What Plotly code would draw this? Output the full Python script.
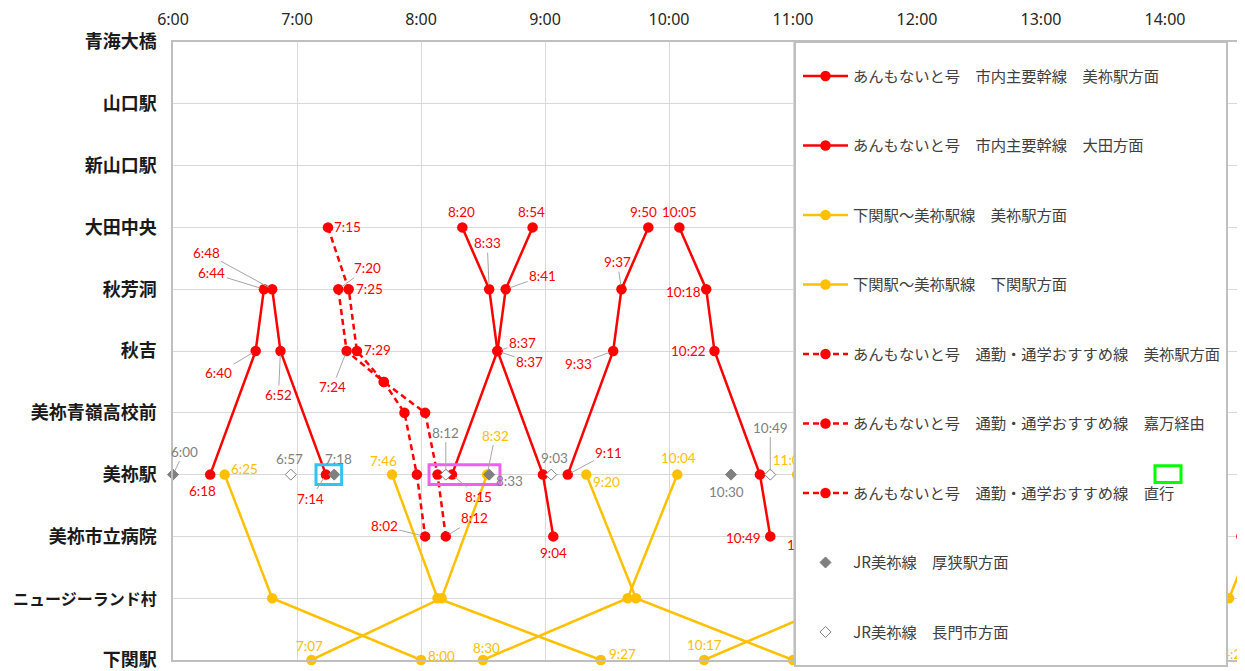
import plotly.graph_objects as go

# ---------------- data ----------------
STATIONS = ["下関駅", "ニュージーランド村", "美祢市立病院", "美祢駅", "美祢青嶺高校前",
            "秋吉", "秋芳洞", "大田中央", "新山口駅", "山口駅", "青海大橋"]
HOUR_LABELS = ["6:00", "7:00", "8:00", "9:00", "10:00", "11:00", "12:00", "13:00", "14:00"]

# あんもないと号 市内主要幹線 美祢駅方面
MAIN_MINE_TIMES = [["6:48", "6:52", "7:14"],
                   ["8:20", "8:33", "8:37", "8:59", "9:04"],
                   ["10:05", "10:18", "10:22", "10:44", "10:49"]]
MAIN_MINE_STOPS = [[6, 5, 3], [7, 6, 5, 3, 2], [7, 6, 5, 3, 2]]

# あんもないと号 市内主要幹線 大田方面
MAIN_OTA_TIMES = [["6:18", "6:40", "6:44"],
                  ["8:15", "8:37", "8:41", "8:54"],
                  ["9:11", "9:33", "9:37", "9:50"],
                  ["11:07", "11:12", "11:34", "11:38", "11:51"],
                  ["14:37", "14:42"]]
MAIN_OTA_STOPS = [[3, 5, 6], [3, 5, 6, 7], [3, 5, 6, 7], [2, 3, 5, 6, 7], [2, 3]]

# 下関駅～美祢駅線 美祢駅方面
SHIMO_MINE_TIMES = [["7:07", "8:10", "8:32"],
                    ["8:30", "9:40", "10:04"],
                    ["10:17", "11:27", "11:51"],
                    ["13:25", "14:31", "14:55"]]
SHIMO_MINE_STOPS = [[0, 1, 3], [0, 1, 3], [0, 1, 3], [0, 1, 3]]

# 下関駅～美祢駅線 下関駅方面
SHIMO_SHIMO_TIMES = [["6:25", "6:48", "8:00"],
                     ["7:46", "8:08", "9:27"],
                     ["9:20", "9:44", "11:00"],
                     ["11:02", "11:25", "12:42"],
                     ["12:48", "13:10", "14:26"]]
SHIMO_SHIMO_STOPS = [[3, 1, 0], [3, 1, 0], [3, 1, 0], [3, 1, 0], [3, 1, 0]]

# あんもないと号 通勤・通学おすすめ線
COM_MINE_TIMES = [["7:20", "7:24", "7:42", "7:52", "7:58", "8:02"]]
COM_MINE_STOPS = [[6, 5, 4.5, 4, 3, 2]]
COM_KAMAN_TIMES = [["7:15", "7:25", "7:29", "7:42", "8:02", "8:08", "8:12"]]
COM_KAMAN_STOPS = [[7, 6, 5, 4.5, 4, 3, 2]]
COM_DIRECT_TIMES = []
COM_DIRECT_STOPS = []

# JR美祢線 (美祢駅)
JR_ASA_TIMES = ["6:00", "7:18", "8:33", "10:30"]
JR_NAGA_TIMES = ["6:57", "8:12", "9:03", "10:49"]
JR_STOP = 3

# ---------------- label layout (pixel offsets) ----------------
# (series, time, dx, dy, leader line)
LABELS = [
    ("main_ota", "6:18", -8, 16, False), ("main_ota", "6:40", -37, 22, True),
    ("main_ota", "6:44", -52, -16, True), ("main_ota", "8:15", 26, 22, True),
    ("main_ota", "8:37", 25, -8, True), ("main_ota", "8:41", 37, -13, True),
    ("main_ota", "8:54", -1, -15, False), ("main_ota", "9:11", 41, -22, True),
    ("main_ota", "9:33", -35, 13, True), ("main_ota", "9:37", -4, -27, True),
    ("main_ota", "9:50", -5, -15, False),
    ("main_mine", "6:48", -66, -36, True), ("main_mine", "6:52", -2, 44, True),
    ("main_mine", "7:14", -15, 24, True), ("main_mine", "8:20", -1, -15, False),
    ("main_mine", "8:33", -2, -46, True), ("main_mine", "8:37", 32, 11, True),
    ("main_mine", "9:04", 0, 17, False), ("main_mine", "10:05", 0, -15, False),
    ("main_mine", "10:18", -23, 3, False), ("main_mine", "10:22", -26, 0, False),
    ("main_mine", "10:49", -27, 2, False),
    ("com_kaman", "7:15", 19, 0, False), ("com_kaman", "7:25", 21, 0, False),
    ("com_kaman", "7:29", 21, -1, False), ("com_kaman", "8:12", 29, -18, True),
    ("com_mine", "7:20", 29, -21, True), ("com_mine", "7:24", -14, 36, True),
    ("com_mine", "8:02", -41, -10, True),
    ("shimo_shimo", "6:25", 20, -6, False), ("shimo_shimo", "7:46", -9, -14, False),
    ("shimo_shimo", "9:20", 20, 7, False), ("shimo_shimo", "8:00", 20, -4, False),
    ("shimo_shimo", "9:27", 22, -6, False),
    ("shimo_mine", "8:32", 8, -39, True), ("shimo_mine", "10:04", 1, -17, False),
    ("shimo_mine", "7:07", -2, -14, False), ("shimo_mine", "8:30", 3, -12, False),
    ("shimo_mine", "10:17", 0, -15, False),
    ("jr_asa", "6:00", 11, -23, True), ("jr_asa", "7:18", 4, -16, False),
    ("jr_asa", "8:33", 20, 6, False), ("jr_asa", "10:30", -5, 17, False),
    ("jr_naga", "6:57", -1, -16, False), ("jr_naga", "8:12", 0, -42, True),
    ("jr_naga", "9:03", 3, -17, False), ("jr_naga", "10:49", 0, -47, True),
]
# labels partly hidden behind the legend box (drawn as trace text)
HIDDEN_LABELS = [
    ("shimo_shimo", "11:02", -7, -13), ("shimo_shimo", "14:26", 13, -4),
    ("main_ota", "11:07", -3, 10), ("main_ota", "14:37", -31, 0),
]

# ---------------- layout constants ----------------
# page (browser) pixel geometry; the page body adds an 8px offset to the figure
PAGE_OFF = 8
PLOT_L, PLOT_T, PLOT_R, PLOT_B = 173, 42, 1245, 662
PW, PH = PLOT_R - PLOT_L, PLOT_B - PLOT_T
ML, MT = PLOT_L - PAGE_OFF, PLOT_T - PAGE_OFF
W = ML + PW
H = 671 - PAGE_OFF
MR, MB = 0, H - MT - PH

PX_PER_HOUR = 124.0
X0 = 360.0
X1 = X0 + PW / PX_PER_HOUR * 60
PX_PER_MIN = PX_PER_HOUR / 60
PX_PER_STOP = PH / 10.0

RED, ORANGE, GRAY = "#FF0000", "#FFC000", "#808080"
LABEL_FONT = "Lato"
LEGEND_FS = 15.3


def tmin(s):
    h, m = s.split(":")
    return int(h) * 60 + int(m)


def build(times, stops):
    xs, ys = [], []
    for tr, sr in zip(times, stops):
        if xs:
            xs.append(None)
            ys.append(None)
        xs += [tmin(t) for t in tr]
        ys += list(sr)
    if not xs:
        xs, ys = [None], [None]
    return xs, ys


SERIES = {
    "main_mine": (MAIN_MINE_TIMES, MAIN_MINE_STOPS),
    "main_ota": (MAIN_OTA_TIMES, MAIN_OTA_STOPS),
    "shimo_mine": (SHIMO_MINE_TIMES, SHIMO_MINE_STOPS),
    "shimo_shimo": (SHIMO_SHIMO_TIMES, SHIMO_SHIMO_STOPS),
    "com_mine": (COM_MINE_TIMES, COM_MINE_STOPS),
    "com_kaman": (COM_KAMAN_TIMES, COM_KAMAN_STOPS),
    "com_direct": (COM_DIRECT_TIMES, COM_DIRECT_STOPS),
    "jr_asa": ([JR_ASA_TIMES], [[JR_STOP] * len(JR_ASA_TIMES)]),
    "jr_naga": ([JR_NAGA_TIMES], [[JR_STOP] * len(JR_NAGA_TIMES)]),
}
COLOR = {"main_mine": RED, "main_ota": RED, "shimo_mine": ORANGE, "shimo_shimo": ORANGE,
         "com_mine": RED, "com_kaman": RED, "com_direct": RED, "jr_asa": GRAY, "jr_naga": GRAY}

NAMES = {
    "main_mine": "あんもないと号　市内主要幹線　美祢駅方面",
    "main_ota": "あんもないと号　市内主要幹線　大田方面",
    "shimo_mine": "下関駅～美祢駅線　美祢駅方面",
    "shimo_shimo": "下関駅～美祢駅線　下関駅方面",
    "com_mine": "あんもないと号　通勤・通学おすすめ線　美祢駅方面",
    "com_kaman": "あんもないと号　通勤・通学おすすめ線　嘉万経由",
    "com_direct": "あんもないと号　通勤・通学おすすめ線　直行",
    "jr_asa": "JR美祢線　厚狭駅方面",
    "jr_naga": "JR美祢線　長門市方面",
}


def stop_of(key, t):
    times, stops = SERIES[key]
    for tr, sr in zip(times, stops):
        for tt, ss in zip(tr, sr):
            if tt == t:
                return ss
    return None


fig = go.Figure()
for key in ["main_mine", "main_ota", "shimo_mine", "shimo_shimo",
            "com_mine", "com_kaman", "com_direct", "jr_asa", "jr_naga"]:
    xs, ys = build(*SERIES[key])
    c = COLOR[key]
    if key.startswith("jr"):
        filled = key == "jr_asa"
        fig.add_trace(go.Scatter(
            x=xs, y=ys, mode="markers", name=NAMES[key], legendgroup=key,
            marker=dict(symbol="diamond", size=8.5,
                        color=GRAY if filled else "white",
                        line=dict(color=GRAY, width=1)),
            cliponaxis=False, hoverinfo="skip"))
    else:
        dash = "6px,4px" if key.startswith("com") else "solid"
        fig.add_trace(go.Scatter(
            x=xs, y=ys, mode="lines+markers", name=NAMES[key], legendgroup=key,
            line=dict(color=c, width=2.5, dash=dash),
            marker=dict(symbol="circle", size=10.5, color=c),
            connectgaps=False, cliponaxis=False, hoverinfo="skip"))

# partly hidden labels as trace text (covered by the legend box)
hx, hy, ht, hc = [], [], [], []
for key, t, dx, dy in HIDDEN_LABELS:
    hx.append(tmin(t) + dx / PX_PER_MIN)
    hy.append(stop_of(key, t) - dy / PX_PER_STOP)
    ht.append(t)
    hc.append(COLOR[key])
fig.add_trace(go.Scatter(x=hx, y=hy, text=ht, mode="text", showlegend=False,
                         textfont=dict(family=LABEL_FONT, size=13.5, color=hc),
                         cliponaxis=False, hoverinfo="skip"))

annotations = []
for key, t, dx, dy, lead in LABELS:
    s = stop_of(key, t)
    a = dict(x=tmin(t), y=s, xref="x", yref="y", text=t,
             font=dict(family=LABEL_FONT, size=13.5, color=COLOR[key]))
    if lead:
        a.update(showarrow=True, ax=dx, ay=dy, axref="pixel", ayref="pixel",
                 arrowhead=0, arrowwidth=1, arrowcolor="#a6a6a6", standoff=4)
    else:
        a.update(showarrow=False, xshift=dx, yshift=-dy)
    annotations.append(a)


def px2paper_x(px):
    return (px - PLOT_L) / PW


def px2paper_y(py):
    return 1 - (py - PLOT_T) / PH


shapes = [
    # legend box
    dict(type="rect", xref="paper", yref="paper", layer="above",
         x0=px2paper_x(795), x1=px2paper_x(1227), y0=px2paper_y(668), y1=px2paper_y(42),
         fillcolor="white", line=dict(color="#bfbfbf", width=2)),
    # highlight boxes
    dict(type="rect", xref="x", yref="y", layer="above",
         x0=tmin("7:14") - 4.8, x1=tmin("7:18") + 3.6, y0=JR_STOP - 0.16, y1=JR_STOP + 0.16,
         line=dict(color="#33c3f0", width=3), fillcolor="rgba(0,0,0,0)"),
    dict(type="rect", xref="x", yref="y", layer="above",
         x0=tmin("8:12") - 8.1, x1=tmin("8:33") + 5.2, y0=JR_STOP - 0.16, y1=JR_STOP + 0.16,
         line=dict(color="#f060f0", width=3), fillcolor="rgba(0,0,0,0)"),
    dict(type="rect", xref="paper", yref="paper", layer="above",
         x0=px2paper_x(1155), x1=px2paper_x(1181), y0=px2paper_y(484), y1=px2paper_y(467),
         line=dict(color="#00ff00", width=3), fillcolor="rgba(0,0,0,0)"),
]

# station tick labels; the long katakana name is set a little smaller
TICK_TEXT = [("<span style='font-size:16px'>%s</span>" % s) if len(s) > 7 else s
             for s in STATIONS]

ITEM_H = LEGEND_FS * 1.3 + 3
fig.update_layout(
    width=W, height=H, autosize=False,
    margin=dict(l=ML, r=MR, t=MT, b=MB, pad=0),
    paper_bgcolor="white", plot_bgcolor="white",
    font=dict(family="Noto Sans CJK JP", color="#262626"),
    showlegend=True,
    legend=dict(x=px2paper_x(798), xanchor="left",
                y=px2paper_y(76 - 5 - ITEM_H / 2), yanchor="top",
                bgcolor="rgba(0,0,0,0)", borderwidth=0,
                itemwidth=45, tracegroupgap=69.5 - ITEM_H,
                font=dict(family="Noto Sans CJK JP", size=LEGEND_FS, color="#404040"),
                traceorder="grouped", itemclick=False, itemdoubleclick=False),
    xaxis=dict(side="top", range=[X0, X1], tickmode="array",
               tickvals=[tmin(h) for h in HOUR_LABELS], ticktext=HOUR_LABELS,
               showgrid=True, gridcolor="#d9d9d9", gridwidth=1, zeroline=False,
               showline=True, mirror=True, linecolor="#bfbfbf", linewidth=1.5,
               ticks="", ticklabelstandoff=9, ticklabeloverflow="allow",
               tickfont=dict(family="Noto Sans", size=16, color="#262626")),
    yaxis=dict(range=[0, 10], tickmode="array", tickvals=list(range(len(STATIONS))),
               ticktext=TICK_TEXT, showgrid=True, gridcolor="#d9d9d9", gridwidth=1,
               zeroline=False, showline=True, linecolor="#bfbfbf", linewidth=1.5,
               ticks="", ticklabelstandoff=11, ticklabeloverflow="allow",
               tickfont=dict(family="Noto Sans CJK JP", size=18, color="#1a1a1a",
                             weight="bold")),
    annotations=annotations, shapes=shapes,
)

fig.write_html("out.html")
